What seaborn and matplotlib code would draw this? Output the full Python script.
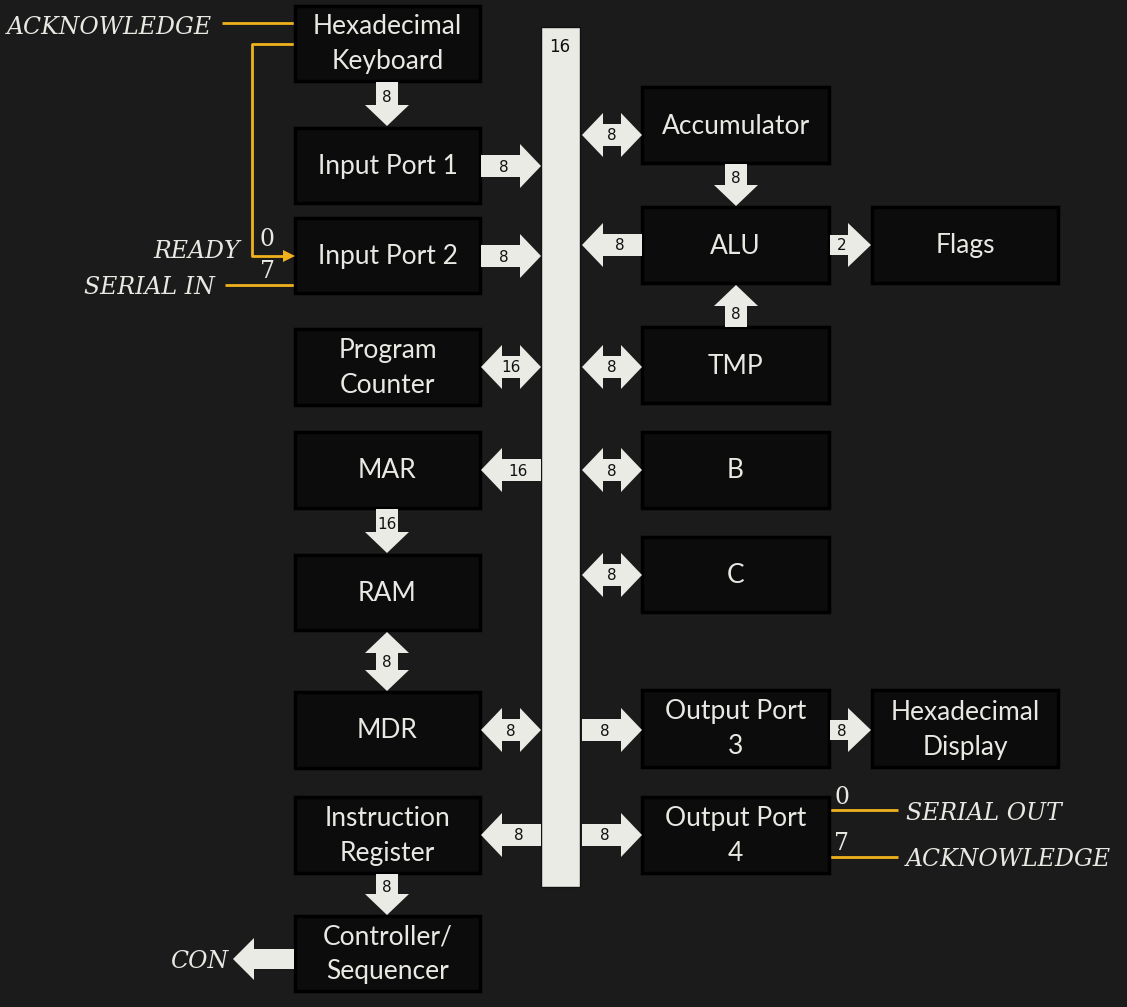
import numpy as np
import seaborn as sns
import matplotlib.pyplot as plt
from matplotlib.patches import Rectangle, Polygon

# block labels (SAP-2 architecture)
left_blocks = ["Hexadecimal\nKeyboard", "Input Port 1", "Input Port 2", "Program\nCounter",
               "MAR", "RAM", "MDR", "Instruction\nRegister", "Controller/\nSequencer"]
right_blocks = ["Accumulator", "ALU", "TMP", "B", "C", "Output Port\n3", "Output Port\n4"]
far_blocks = ["Flags", "Hexadecimal\nDisplay"]

# bus widths on each connection
bus_width = 16
link_widths = {
    "kbd_ip1": "8", "ip1_bus": "8", "ip2_bus": "8", "pc_bus": "16", "bus_mar": "16",
    "mar_ram": "16", "ram_mdr": "8", "mdr_bus": "8", "bus_ir": "8", "ir_con": "8",
    "bus_acc": "8", "acc_alu": "8", "alu_bus": "8", "alu_flags": "2", "tmp_alu": "8",
    "bus_tmp": "8", "bus_b": "8", "bus_c": "8", "bus_out3": "8", "out3_disp": "8",
    "bus_out4": "8",
}

# external signals
in_signals = ["ACKNOWLEDGE", "READY", "SERIAL IN"]
out_signals = ["SERIAL OUT", "ACKNOWLEDGE"]
ctrl_signal = "CON"

# ---- layout (pixels) ----
W, H = 1127, 1007
left_x = (295, 480)
right_x = (642, 829)
far_x = (872, 1058)
left_y = [(6, 81), (128, 203), (218, 293), (329, 405), (432, 508), (555, 630),
          (692, 768), (797, 873), (916, 991)]
right_y = [(87, 163), (207, 283), (327, 403), (432, 508), (537, 612), (690, 767), (797, 873)]
far_y = [(207, 283), (690, 767)]

BG = "#1b1b1b"
BOX = "#0c0c0c"
FG = "#e9e9e4"
ARROW = "#ebebe6"
GOLD = "#efb21c"

sns.set_theme(style="dark", rc={"figure.facecolor": BG, "axes.facecolor": BG})
plt.rcParams["font.family"] = ["Lato", "DejaVu Sans"]

fig = plt.figure(figsize=(W / 100, H / 100), dpi=100)
ax = fig.add_axes([0, 0, 1, 1])
ax.set_xlim(0, W)
ax.set_ylim(H, 0)
ax.axis("off")


def block(label, xs, ys):
    ax.add_patch(Rectangle((xs[0], ys[0]), xs[1] - xs[0], ys[1] - ys[0],
                           facecolor=BOX, edgecolor="#000000", lw=2.5, zorder=2))
    ax.text((xs[0] + xs[1]) / 2, (ys[0] + ys[1]) / 2 + 1, label, color=FG, fontsize=19,
            ha="center", va="center", linespacing=1.5, zorder=3)


for lab, ys in zip(left_blocks, left_y):
    block(lab, left_x, ys)
for lab, ys in zip(right_blocks, right_y):
    block(lab, right_x, ys)
for lab, ys in zip(far_blocks, far_y):
    block(lab, far_x, ys)

# the system bus
ax.add_patch(Rectangle((541, 27), 39, 860, facecolor=ARROW, edgecolor="#111111",
                       lw=1, zorder=2))
ax.text(560, 47, str(bus_width), color="#111111", fontsize=12, ha="center",
        va="center", zorder=3, family="DejaVu Sans")


def block_arrow(x0, y0, x1, y1, label=None, double=False, shaft=11, head=22, hlen=21):
    p0 = np.array([x0, y0], float)
    p1 = np.array([x1, y1], float)
    d = (p1 - p0) / np.linalg.norm(p1 - p0)
    n = np.array([-d[1], d[0]])
    b2 = p1 - d * hlen
    if double:
        b1 = p0 + d * hlen
        pts = [p0, b1 + n * head, b1 + n * shaft, b2 + n * shaft, b2 + n * head, p1,
               b2 - n * head, b2 - n * shaft, b1 - n * shaft, b1 - n * head]
        c = (p0 + p1) / 2
    else:
        pts = [p0 + n * shaft, b2 + n * shaft, b2 + n * head, p1,
               b2 - n * head, b2 - n * shaft, p0 - n * shaft]
        c = (p0 + b2) / 2 + d * 3
    ax.add_patch(Polygon(pts, closed=True, facecolor=ARROW, edgecolor="none", zorder=2))
    if label:
        ax.text(c[0], c[1] + 1, label, color="#111111", fontsize=11, ha="center",
                va="center", family="DejaVu Sans", zorder=3)


lw_ = link_widths
# left column
block_arrow(387, 82, 387, 126, lw_["kbd_ip1"])
block_arrow(481, 166, 541, 166, lw_["ip1_bus"])
block_arrow(481, 256, 541, 256, lw_["ip2_bus"])
block_arrow(481, 367, 541, 367, lw_["pc_bus"], double=True)
block_arrow(541, 470, 481, 470, lw_["bus_mar"])
block_arrow(387, 509, 387, 553, lw_["mar_ram"])
block_arrow(387, 632, 387, 691, lw_["ram_mdr"], double=True)
block_arrow(481, 730, 541, 730, lw_["mdr_bus"], double=True)
block_arrow(541, 835, 481, 835, lw_["bus_ir"])
block_arrow(387, 874, 387, 915, lw_["ir_con"])
block_arrow(294, 959, 233, 959, None, shaft=10, head=21)
# right column
block_arrow(582, 135, 642, 135, lw_["bus_acc"], double=True)
block_arrow(736, 164, 736, 206, lw_["acc_alu"])
block_arrow(642, 245, 582, 245, lw_["alu_bus"])
block_arrow(830, 245, 871, 245, lw_["alu_flags"], shaft=10, head=22, hlen=23)
block_arrow(736, 327, 736, 285, lw_["tmp_alu"])
block_arrow(582, 367, 642, 367, lw_["bus_tmp"], double=True)
block_arrow(582, 470, 642, 470, lw_["bus_b"], double=True)
block_arrow(582, 575, 642, 575, lw_["bus_c"], double=True)
block_arrow(582, 730, 642, 730, lw_["bus_out3"])
block_arrow(830, 730, 871, 730, lw_["out3_disp"], shaft=10, head=22, hlen=23)
block_arrow(582, 835, 642, 835, lw_["bus_out4"])

# gold signal lines
sig = dict(color=GOLD, lw=2, solid_capstyle="butt", zorder=1)
ax.plot([222, 295], [23, 23], **sig)
ax.plot([295, 252, 252, 284], [44, 44, 256, 256], **sig)
ax.add_patch(Polygon([[283, 250], [295, 256], [283, 262]], closed=True,
                     facecolor=GOLD, edgecolor="none", zorder=2))
ax.plot([225, 295], [285, 285], **sig)
ax.plot([829, 898], [810, 810], **sig)
ax.plot([829, 898], [857, 857], **sig)

serif = dict(color=FG, family=["DejaVu Serif"], fontsize=17, style="italic", va="center")
ax.text(212, 28, in_signals[0], ha="right", **serif)
ax.text(240, 251, in_signals[1], ha="right", **serif)
ax.text(215, 287, in_signals[2], ha="right", **serif)
ax.text(906, 813, out_signals[0], ha="left", **serif)
ax.text(906, 860, out_signals[1], ha="left", **serif)
ax.text(228, 962, ctrl_signal, ha="right", **serif)

digit = dict(color=FG, family=["DejaVu Serif"], fontsize=17, ha="center", va="center")
ax.text(267, 239, "0", **digit)
ax.text(267, 272, "7", **digit)
ax.text(842, 797, "0", **digit)
ax.text(842, 843, "7", **digit)

fig.savefig("out.png", dpi=100, facecolor=BG)
